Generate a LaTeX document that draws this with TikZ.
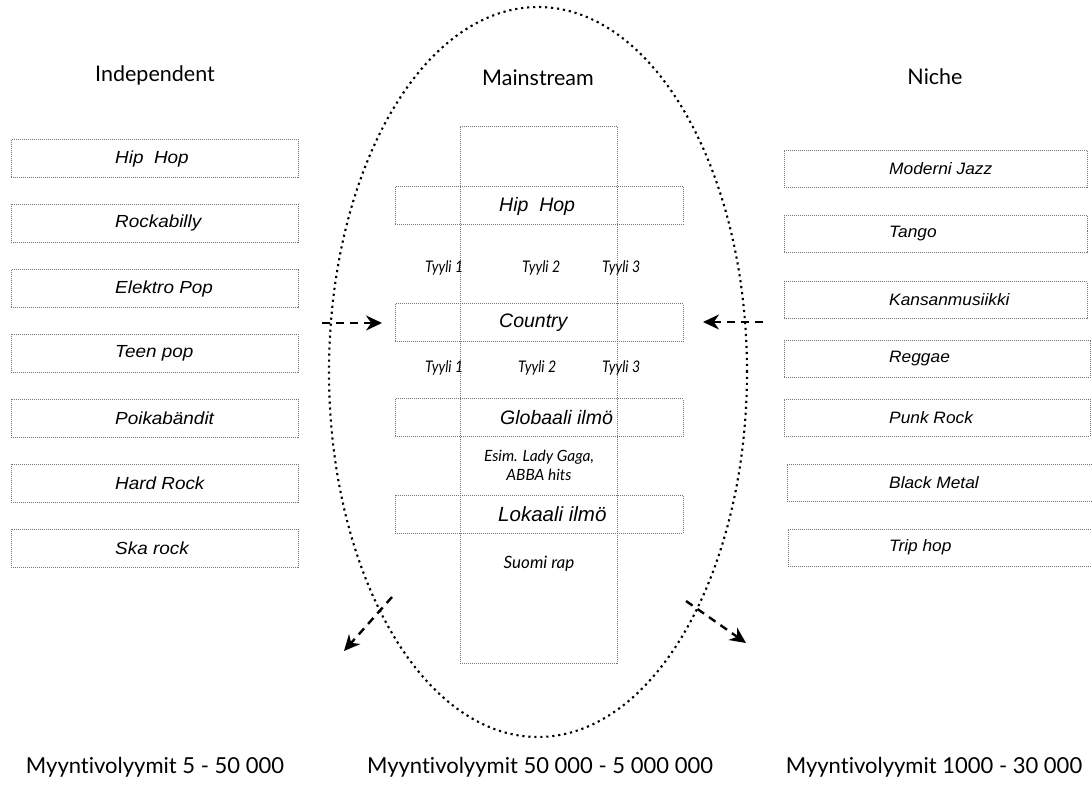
\documentclass[tikz,border=0pt]{standalone}
\usepackage{fontspec}
\setmainfont[Ligatures={NoCommon}]{Lato}
\newfontfamily\arialfont{Liberation Sans}
\usetikzlibrary{arrows.meta,shapes.geometric}
\newcommand\lwide[1]{\scalebox{1.08}[1]{#1}}
\newcommand\rwide[1]{\scalebox{1.05}[1]{#1}}
\newcommand\narrowtxt[1]{\scalebox{0.88}[1]{#1}}
\begin{document}
\begin{tikzpicture}[x=1pt,y=-1pt,
  genrebox/.style={draw=black!55, line width=0.7pt, dash pattern=on 1pt off 1pt, minimum height=38pt, inner sep=0pt},
  lefttext/.style={font=\arialfont\itshape\fontsize{17.5}{19}\selectfont, inner sep=0pt, anchor=west},
  righttext/.style={font=\arialfont\itshape\fontsize{16.5}{19}\selectfont, inner sep=0pt, anchor=west},
  midtext/.style={font=\arialfont\itshape\fontsize{19.5}{21}\selectfont, inner sep=0pt, anchor=west},
  styletext/.style={font=\itshape\fontsize{16}{17}\selectfont, inner sep=0pt, anchor=west},
  gilltext/.style={font=\itshape\fontsize{15.5}{19}\selectfont, inner sep=0pt, align=center},
  header/.style={font=\fontsize{21.5}{24}\selectfont, inner sep=0pt},
  volume/.style={font=\fontsize{22}{26}\selectfont, inner sep=0pt},
  flowarrow/.style={line width=2.4pt, dash pattern=on 8pt off 6pt, -{Stealth[length=16pt,width=15pt]}},
  ringline/.style={line width=2.1pt, dash pattern=on 2.2pt off 3.8pt}
]
\useasboundingbox (0,0) rectangle (1092,789);

% headers
\node[header] (hInd) at (155,75) {Independent};
\node[header] (hMain) at (538,78) {Mainstream};
\node[header] (hNiche) at (935,77) {Niche};

% mainstream ellipse
\node[ringline, draw, ellipse, minimum width=418pt, minimum height=730pt, inner sep=0pt] (ring) at (538,372) {};

% tall column
\node[genrebox, minimum width=157pt, minimum height=537pt] (column) at (538.5,394.5) {};

% middle rows
\node[genrebox, minimum width=288pt] (mHip) at (539,205.5) {};
\node[midtext] (mHipT) at (499,206) {Hip\ \ Hop};
\node[genrebox, minimum width=288pt] (mCountry) at (539,322.5) {};
\node[midtext] (mCountryT) at (499,323) {Country};
\node[genrebox, minimum width=288pt] (mGlob) at (539,417.5) {};
\node[midtext] (mGlobT) at (500,418) {Globaali ilmö};
\node[genrebox, minimum width=288pt] (mLok) at (539,514) {};
\node[midtext, font=\arialfont\itshape\fontsize{20.5}{22}\selectfont] (mLokT) at (498,514) {Lokaali ilmö};

% style labels
\node[styletext] (s11) at (425,268) {\narrowtxt{Tyyli 1}};
\node[styletext] (s12) at (522,268) {\narrowtxt{Tyyli 2}};
\node[styletext] (s13) at (602,268) {\narrowtxt{Tyyli 3}};
\node[styletext] (s21) at (425,368) {\narrowtxt{Tyyli 1}};
\node[styletext] (s22) at (518,368) {\narrowtxt{Tyyli 2}};
\node[styletext] (s23) at (602,368) {\narrowtxt{Tyyli 3}};

\node[gilltext] (esim) at (539,465) {Esim. Lady Gaga,\\ABBA hits};
\node[gilltext, font=\itshape\fontsize{17}{19}\selectfont] (suomi) at (539,564) {Suomi rap};

% left boxes
\foreach \y/\t [count=\i] in {158.5/Hip\ \ Hop, 223/Rockabilly, 288.5/Elektro Pop, 353/Teen pop, 418/Poikabändit, 483/Hard Rock, 548/Ska rock}{
  \node[genrebox, minimum width=287pt] (L\i) at (154.5,\y) {};
  \node[lefttext] (LT\i) at (115,\y) {\lwide{\t}};
}

% right boxes
\foreach \y/\t/\xl/\xr [count=\i] in {168.5/Moderni Jazz/784/1087, 234/Tango/784/1087, 300/Kansanmusiikki/784/1087, 359/Reggae/784/1090, 417.5/Punk Rock/784/1090, 482.5/Black Metal/787/1092, 547.5/Trip hop/788/1092}{
  \node[genrebox, minimum height=37pt, minimum width=\xr pt-\xl pt] (R\i) at ({(\xl+\xr)/2},\y) {};
  \node[righttext] (RT\i) at (889,\y) {\rwide{\t}};
}

% arrows
\coordinate (aL1) at (322,323);
\coordinate (aL2) at (382,323);
\coordinate (aR1) at (763,322);
\coordinate (aR2) at (703,322);
\coordinate (bL1) at (392,597);
\coordinate (bL2) at (344,651);
\coordinate (bR1) at (686,601);
\coordinate (bR2) at (746,643);
\draw[flowarrow] (aL1) -- (aL2);
\draw[flowarrow] (aR1) -- (aR2);
\draw[flowarrow] (bL1) -- (bL2);
\draw[flowarrow] (bR1) -- (bR2);

% volumes
\node[volume] (v1) at (155,767) {Myyntivolyymit 5 - 50 000};
\node[volume] (v2) at (540,767) {Myyntivolyymit 50 000 - 5 000 000};
\node[volume] (v3) at (934,767) {Myyntivolyymit 1000 - 30 000};
\end{tikzpicture}
\end{document}
